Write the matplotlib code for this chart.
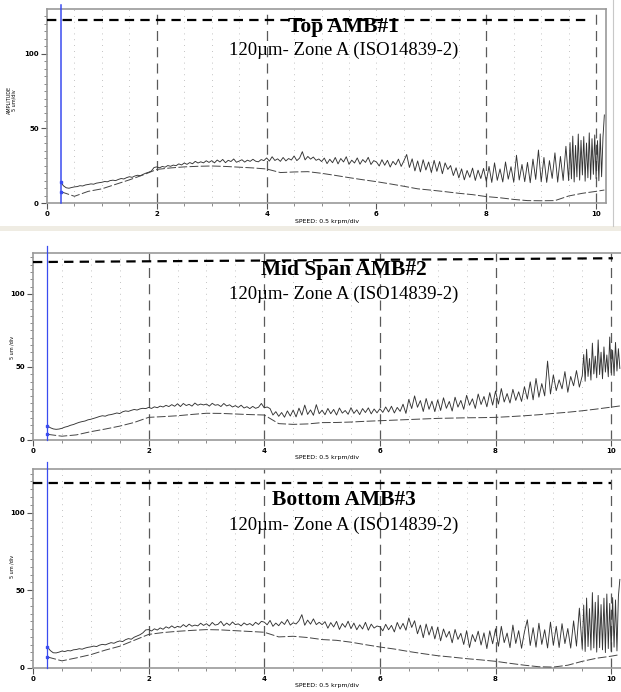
import numpy as np
import matplotlib
matplotlib.use("Agg")
import matplotlib.pyplot as plt
from matplotlib.patches import Rectangle

# ---- data ----
panel_titles = ["Top AMB#1", "Mid Span AMB#2", "Bottom AMB#3"]
zone_label = "120\u00b5m- Zone A (ISO14839-2)"
ylabels = ["AMPLITUDE\n5 um/div", "5 um /div", "5 um /div"]
xlabel = "SPEED: 0.5 krpm/div"
x_ticks = [0, 2, 4, 6, 8, 10]
y_ticks = [0, 50, 100]
cursor_speed = 0.25
major_grid = [[2, 4, 8, 10], [2, 4, 6, 8, 10], [2, 4, 6, 8, 10]]
limit_x = [[0, 9.9], [0, 10.03], [0, 10.0]]
limit_y = [[122.3, 122.3], [121.8, 124.4], [119.3, 119.3]]

# solid traces, one value every 0.05 krpm from 0.25 to 9.45 krpm
top_solid = [
    14.0, 11.5, 10.2, 9.9, 10.4, 10.8, 11.0, 11.6, 11.4, 12.1, 12.4, 12.8, 12.6, 13.3, 13.6,
    13.9, 14.4, 14.2, 15.0, 15.3, 15.0, 15.8, 16.4, 16.1, 17.0, 17.6, 17.2, 18.1, 18.6, 18.3, 19.2, 20.0, 20.6, 21.4, 23.8,
    24.2, 23.6, 24.5, 24.0, 25.1, 24.6, 25.4, 25.0, 26.2, 25.5, 26.8, 25.9, 27.1, 26.3, 27.9, 26.8, 27.6, 26.9, 28.3, 27.2,
    28.4, 26.9, 28.8, 27.5, 29.2, 27.0, 28.6, 27.8, 29.5, 27.3, 28.1, 29.0, 27.4, 28.7, 27.9, 29.3, 28.0, 27.6, 29.1, 28.4,
    30.2, 28.1, 31.0, 28.5, 29.6, 27.9, 30.5, 28.2, 29.8, 28.8, 31.5, 28.4, 30.1, 34.4, 28.9, 31.2, 29.4, 30.8, 28.6, 29.5,
    27.8, 30.1, 26.4, 29.3, 27.0, 30.5, 26.2, 29.8, 27.5, 31.0, 25.9, 28.7, 26.8, 30.2, 26.0, 29.1, 27.2, 30.6, 25.8, 28.4,
    27.5, 24.8, 29.0, 25.3, 28.6, 24.1, 27.9, 25.6, 29.4, 24.5, 28.3, 32.5, 23.8, 29.6, 21.5, 28.2, 20.8, 29.0, 22.1, 27.5,
    20.4, 28.6, 21.2, 27.8, 19.6, 26.9, 22.5, 25.1, 18.4, 23.6, 16.8, 22.9, 15.5, 21.8, 17.2, 23.4, 15.1, 22.0, 16.4, 23.2,
    14.6, 24.5, 13.8, 26.9, 15.2, 22.8, 14.1, 27.5, 16.0, 24.3, 13.9, 32.0, 15.4, 25.8, 14.3, 27.2, 13.6, 29.4, 15.8, 35.5,
    14.2, 30.5, 13.8, 28.4, 16.5, 33.6, 14.0, 31.2, 15.1, 38.0,
]
mid_solid = [
    9.6, 8.4, 7.6, 7.3, 7.5, 8.0, 8.8, 9.3, 10.1, 10.6, 11.4, 12.1, 12.6, 13.0, 13.8,
    14.2, 14.8, 15.4, 16.1, 16.6, 16.3, 17.1, 17.4, 17.9, 18.5, 18.1, 19.3, 19.9, 19.6, 20.3, 20.9, 20.5, 21.3, 21.7, 21.5,
    22.3, 21.6, 22.7, 22.1, 23.2, 22.6, 23.7, 22.9, 24.2, 23.1, 24.8, 22.9, 25.0, 23.6, 24.4, 23.2, 25.3, 23.8, 24.6, 24.0,
    24.6, 23.2, 25.1, 23.8, 24.2, 22.9, 25.0, 23.3, 24.1, 22.6, 23.5, 22.3, 23.8, 21.9, 22.8, 21.5, 23.0, 21.7, 22.4, 25.0,
    22.0, 22.6, 21.5, 17.1, 19.4, 16.2, 18.8, 15.6, 19.9, 16.4, 20.5, 15.8, 21.8, 17.0, 23.9, 17.5, 20.6, 16.9, 24.2, 18.0,
    20.4, 17.3, 21.6, 18.0, 20.9, 17.1, 21.9, 18.4, 20.2, 17.6, 22.1, 18.2, 20.7, 17.4, 21.5, 18.8, 22.0, 17.9, 21.2, 18.6,
    21.4, 18.9, 22.6, 19.2, 23.1, 18.5, 22.3, 19.6, 24.5, 18.2, 27.8, 21.5, 30.2, 22.4, 27.0, 19.5, 28.4, 21.0, 26.6, 19.4,
    27.5, 20.2, 28.9, 21.7, 26.4, 19.8, 29.3, 22.5, 27.1, 21.0, 30.6, 23.8, 28.2, 21.6, 31.5, 24.3, 29.8, 22.7, 32.4, 23.9,
    33.5, 24.6, 35.2, 26.0, 31.8, 25.3, 34.7, 27.1, 33.0, 26.4, 36.5, 28.0, 39.8, 27.5, 42.1, 29.3, 38.6, 30.2, 54.0, 31.5,
    44.6, 33.8, 41.2, 35.0, 46.8, 32.7, 43.5, 37.1, 47.5, 36.2,
]
bot_solid = [
    13.5, 11.2, 9.8, 9.7, 10.2, 10.9, 10.6, 11.2, 11.0, 11.7, 11.9, 12.4, 12.1, 12.8, 13.3,
    13.6, 14.1, 13.8, 14.7, 15.2, 14.9, 15.6, 16.3, 15.9, 16.8, 17.4, 17.0, 18.2, 18.9, 18.5, 19.8, 20.6, 21.4, 22.6, 24.5,
    24.7, 23.8, 25.2, 24.4, 25.8, 24.9, 26.5, 25.6, 27.1, 25.8, 26.8, 26.2, 27.9, 26.5, 28.2, 26.9, 27.6, 27.1, 28.8, 27.4,
    28.5, 27.0, 29.3, 27.6, 28.1, 30.0, 27.2, 28.9, 27.5, 29.6, 27.9, 28.4, 27.1, 29.0, 27.7, 28.6, 27.3, 29.4, 28.0, 30.0,
    29.5, 27.8, 30.6, 26.8, 28.9, 27.2, 29.8, 28.0, 31.2, 27.6, 29.1, 28.3, 30.4, 34.3, 27.5, 30.8, 28.2, 31.6, 27.9, 29.4,
    27.9, 29.8, 25.6, 29.2, 26.4, 30.0, 24.8, 28.6, 26.2, 30.1, 25.3, 28.9, 24.6, 27.8, 25.1, 29.4, 24.3, 28.2, 25.7, 27.0,
    26.5, 23.9, 28.1, 24.6, 27.4, 23.2, 29.3, 25.0, 28.7, 24.3, 32.2, 26.1, 30.4, 22.0, 27.6, 19.5, 28.3, 21.2, 26.8, 18.7,
    26.3, 17.5, 25.1, 19.8, 23.6, 16.2, 24.8, 18.4, 22.3, 15.1, 24.0, 13.2, 21.5, 16.9, 23.7, 14.8, 22.6, 12.5, 23.9, 15.6,
    25.2, 14.0, 26.8, 16.3, 22.5, 13.1, 27.6, 15.8, 24.0, 12.7, 23.3, 31.0, 14.5, 25.9, 13.4, 28.8, 15.2, 24.6, 12.9, 29.5,
    14.6, 26.8, 13.2, 28.5, 15.7, 25.4, 12.8, 30.3, 14.1, 38.5,
]

# dense high-speed end of the solid traces, every 0.025 krpm from 9.5 to 10.15
top_tail = [
    15.0, 40.5, 16.2, 44.8, 14.1, 38.6, 17.5, 46.2, 15.3, 42.0, 18.8, 44.5, 14.6, 40.2,
    16.9, 47.0, 15.8, 43.1, 19.2, 45.6, 16.4, 41.8, 14.9, 46.3, 17.6, 44.0, 59.0,
]
mid_tail = [
    44.0, 58.5, 40.2, 62.1, 43.5, 55.8, 41.0, 66.3, 45.2, 57.4, 42.6, 68.5, 44.8, 60.1,
    41.9, 63.7, 46.5, 58.2, 43.3, 70.5, 45.9, 61.4, 44.1, 66.8, 47.2, 62.5, 49.0,
]
bot_tail = [
    12.0, 40.5, 10.6, 45.0, 13.8, 38.2, 11.5, 48.5, 12.9, 42.3, 10.2, 46.7, 13.1, 40.8,
    11.7, 44.9, 9.9, 47.6, 12.5, 41.5, 10.8, 45.3, 13.4, 43.8, 11.0, 46.0, 57.0,
]

# dashed traces, every 0.25 krpm from 0.25 to 10.0, then 10.15
top_dashed = [
    7.6, 4.5, 7.8, 9.5, 12.5, 15.5, 18.8, 22.5, 23.5, 24.2, 24.6, 24.8, 24.5, 24.0, 23.5, 22.8,
    20.4, 20.8, 21.0, 19.9, 18.5, 17.0, 15.6, 14.3, 12.8, 11.2, 9.5, 8.6, 7.6, 6.5, 5.6, 4.3,
    3.5, 2.4, 1.6, 1.5, 1.6, 4.7, 6.5, 7.8, 8.7,
]
mid_dashed = [
    3.9, 2.6, 3.5, 5.7, 7.5, 9.5, 12.0, 15.5, 16.0, 16.6, 17.5, 18.3, 18.2, 17.8, 17.4, 17.1,
    11.2, 10.7, 11.0, 11.9, 12.0, 12.3, 12.8, 13.2, 13.6, 14.0, 14.4, 14.8, 15.0, 15.2, 15.3, 15.5,
    16.0, 16.6, 17.3, 18.2, 19.0, 20.0, 21.2, 22.5, 23.3,
]
bot_dashed = [
    7.1, 4.6, 6.5, 8.6, 11.5, 14.0, 17.8, 21.6, 22.8, 23.6, 24.2, 24.7, 24.5, 24.0, 23.5, 23.0,
    20.0, 20.4, 19.6, 18.3, 17.8, 16.6, 15.0, 13.5, 12.2, 10.6, 9.2, 7.9, 7.0, 6.0, 5.2, 4.3,
    3.0, 1.8, 0.8, 0.6, 1.8, 4.3, 6.3, 7.6, 8.6,
]

solids = [top_solid, mid_solid, bot_solid]
tails = [top_tail, mid_tail, bot_tail]
dasheds = [top_dashed, mid_dashed, bot_dashed]
spd_coarse = np.append(np.arange(0.25, 10.01, 0.25), 10.15)

W, H = 621, 692
fig = plt.figure(figsize=(W / 100, H / 100), dpi=100)
fig.patch.set_facecolor("white")

# screenshot frame bits around the top panel
fig.add_artist(Rectangle((0, 1 - 231 / H), 1, 5 / H, transform=fig.transFigure,
                         facecolor="#efece3", edgecolor="none"))
fig.add_artist(plt.Line2D([613 / W, 613 / W], [1 - 226 / H, 1], transform=fig.transFigure,
                          color="#c8c8c8", lw=0.8))

# pixel boxes: left, right, top, bottom, x max, y max
boxes = [(47, 606, 9, 203, 10.18, 130),
         (33, 621, 253, 440, 10.17, 128),
         (33, 621, 469, 668, 10.17, 128)]
title_y = [(27, 50), (270, 294), (500, 525)]
xlabel_y = [222, 458, 686]
ylabel_y = [100, 347, 566]
blue_top = [5, 246, 462]

for i in range(3):
    l, r, t, b, xmax, ymax = boxes[i]
    ax = fig.add_axes([l / W, 1 - b / H, (r - l) / W, (b - t) / H])
    ax.set_xlim(0, xmax)
    ax.set_ylim(0, ymax)

    # grid: dotted every 0.5 krpm, dashed on the majors
    for gx in np.arange(0.5, 10.01, 0.5):
        if gx not in major_grid[i]:
            ax.axvline(gx, color="#b0b0b0", lw=0.6, dashes=(1, 6), zorder=1)
    for gx in major_grid[i]:
        ax.axvline(gx, color="#5a5a5a", lw=0.9, dashes=(8, 5), zorder=1)

    spd_fine = 0.25 + 0.05 * np.arange(len(solids[i]))
    spd_tail = 9.5 + 0.025 * np.arange(len(tails[i]))
    ax.plot(np.concatenate([spd_fine, spd_tail]), solids[i] + tails[i],
            color="#333333", lw=0.65, zorder=3)
    ax.plot(spd_coarse, dasheds[i], color="#444444", lw=0.7, dashes=(9, 2.5), zorder=3)
    ax.plot(limit_x[i], limit_y[i], color="black", lw=1.6, dashes=(4.2, 2.8), zorder=4)

    blue_ext = 1 + (t - blue_top[i]) / (b - t)
    ax.axvline(cursor_speed, ymin=0, ymax=blue_ext, color="#3a4cf0", lw=1.1 if i == 0 else 0.9,
               clip_on=False, zorder=5)
    ax.plot([cursor_speed, cursor_speed], [solids[i][0], dasheds[i][0]], ls="none",
            marker="s", ms=1.6, color="#3a4cf0", zorder=6)

    for side in ["left", "bottom", "top", "right"]:
        ax.spines[side].set_color("#9a9a9a")
        ax.spines[side].set_linewidth(1.2)
    if i > 0:
        ax.spines["right"].set_visible(False)

    ax.set_xticks(x_ticks, labels=[str(v) for v in x_ticks], fontsize=5, fontweight="bold")
    ax.set_yticks(y_ticks, labels=[str(v) for v in y_ticks], fontsize=5, fontweight="bold")
    ax.set_xticks(np.arange(0, 10.01, 0.5), minor=True)
    ax.set_yticks(np.arange(0, ymax, 5), minor=True)
    ax.tick_params(which="major", length=4, width=0.8, color="#555555", pad=2)
    ax.tick_params(which="minor", length=2.5, width=0.6, color="#777777")

    cx = 343.5 / W
    fig.text(cx, 1 - title_y[i][0] / H, panel_titles[i], ha="center", va="center",
             family="Liberation Serif", fontweight="bold", fontsize=15.5)
    fig.text(cx, 1 - title_y[i][1] / H, zone_label, ha="center", va="center",
             family="Liberation Serif", fontsize=13.5)
    fig.text(327 / W, 1 - xlabel_y[i] / H, xlabel, ha="center", va="center", fontsize=4.5)
    fig.text(12 / W, 1 - ylabel_y[i] / H, ylabels[i], ha="center", va="center",
             rotation=90, fontsize=3.5, linespacing=1.0)

fig.savefig("out.png", dpi=100)
